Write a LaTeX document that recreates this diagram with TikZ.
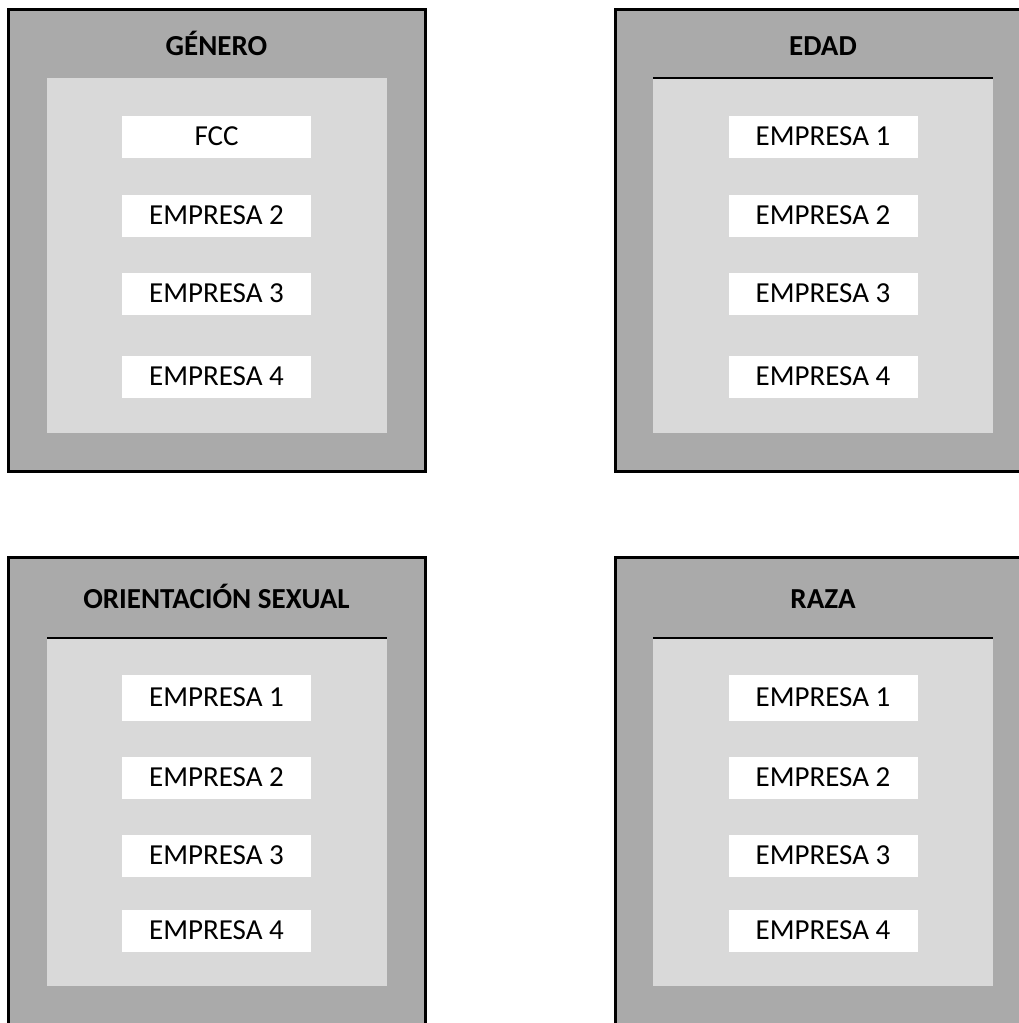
\documentclass[tikz,border=0pt]{standalone}
\usepackage{fontspec}
\setmainfont{Carlito}
\definecolor{outergray}{HTML}{AAAAAA}
\definecolor{innergray}{HTML}{D9D9D9}
\begin{document}
\begin{tikzpicture}[x=1pt,y=-1pt,
  outerbox/.style={fill=outergray,draw=black,line width=3pt},
  innerbox/.style={fill=innergray},
  topline/.style={draw=black,line width=2pt},
  item/.style={fill=white,minimum width=189pt,minimum height=42pt,inner sep=0pt,
    text height=17.5pt,text depth=0pt,font=\fontsize{29}{34}\selectfont},
  title/.style={inner sep=0pt,text height=17.5pt,text depth=0pt,
    font=\fontsize{29}{34}\selectfont\bfseries}]
\useasboundingbox (0,0) rectangle (1019,1023);
\clip (0,0) rectangle (1019,1023);

% ---------- top left: GÉNERO ----------
\draw[outerbox] (8,9) rectangle (425,471);
\fill[innerbox] (47,78) rectangle (387,433);
\node[title] (t1) at (216.5,46.5) {GÉNERO};
\node[item] (a1) at (216.5,137) {FCC};
\node[item] (a2) at (216.5,215.5) {EMPRESA 2};
\node[item] (a3) at (216.5,294) {EMPRESA 3};
\node[item] (a4) at (216.5,376.5) {EMPRESA 4};

% ---------- top right: EDAD ----------
\draw[outerbox] (615,9) rectangle (1035,471);
\fill[innerbox] (653,78) rectangle (993,433);
\draw[topline] (653,78) -- (993,78);
\node[title] (t2) at (823,46.5) {EDAD};
\node[item] (b1) at (823,137) {EMPRESA 1};
\node[item] (b2) at (823,215.5) {EMPRESA 2};
\node[item] (b3) at (823,294) {EMPRESA 3};
\node[item] (b4) at (823,376.5) {EMPRESA 4};

% ---------- bottom left: ORIENTACIÓN SEXUAL ----------
\draw[outerbox] (8,557) rectangle (425,1035);
\fill[innerbox] (47,638) rectangle (387,986);
\draw[topline] (47,638) -- (387,638);
\node[title] (t3) at (216.5,600) {ORIENTACIÓN SEXUAL};
\node[item,minimum height=46pt] (c1) at (216.5,698) {EMPRESA 1};
\node[item] (c2) at (216.5,778) {EMPRESA 2};
\node[item] (c3) at (216.5,856) {EMPRESA 3};
\node[item] (c4) at (216.5,931) {EMPRESA 4};

% ---------- bottom right: RAZA ----------
\draw[outerbox] (615,557) rectangle (1035,1035);
\fill[innerbox] (653,638) rectangle (993,986);
\draw[topline] (653,638) -- (993,638);
\node[title] (t4) at (823,600) {RAZA};
\node[item,minimum height=46pt] (d1) at (823,698) {EMPRESA 1};
\node[item] (d2) at (823,778) {EMPRESA 2};
\node[item] (d3) at (823,856) {EMPRESA 3};
\node[item] (d4) at (823,931) {EMPRESA 4};
\end{tikzpicture}
\end{document}
